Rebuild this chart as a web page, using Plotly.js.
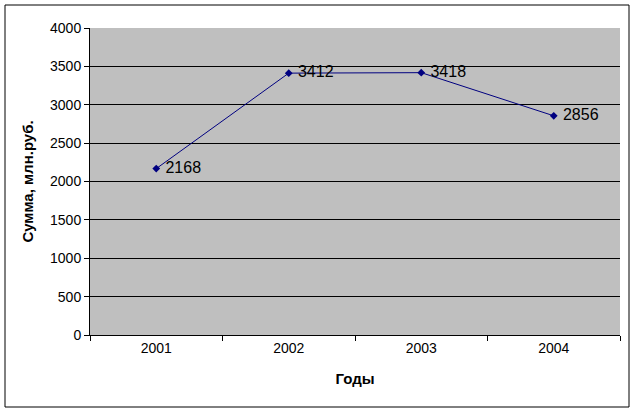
<!DOCTYPE html>
<html>
<head>
<meta charset="utf-8">
<script src="https://cdn.plot.ly/plotly-3.0.1.min.js"></script>
<style>html,body{margin:0;padding:0;background:#fff;}#chart{width:636px;height:413px;}</style>
</head>
<body>
<div id="chart"></div>
<script>
const years = ['2001', '2002', '2003', '2004'];
const sums = [2168, 3412, 3418, 2856];
const yTicks = [0, 500, 1000, 1500, 2000, 2500, 3000, 3500, 4000];

const trace = {
  x: years,
  y: sums,
  type: 'scatter',
  mode: 'lines+markers+text',
  text: sums.map(v => '\u00a0' + v),
  textposition: 'middle right',
  textfont: {family: 'Arial, Liberation Sans, sans-serif', size: 16, color: '#000'},
  line: {color: '#000080', width: 1},
  marker: {symbol: 'diamond', size: 6, color: '#000080'},
  cliponaxis: false,
  hoverinfo: 'x+y'
};

const layout = {
  width: 636, height: 413,
  margin: {l: 90, r: 16, t: 28, b: 78},
  paper_bgcolor: '#ffffff',
  plot_bgcolor: '#bfbfbf',
  showlegend: false,
  font: {family: 'Arial, Liberation Sans, sans-serif', size: 14, color: '#000'},
  xaxis: {
    type: 'category',
    range: [-0.5, 3.5],
    showgrid: false,
    showline: true, linecolor: '#000', linewidth: 1,
    ticks: 'outside', tickson: 'boundaries', ticklen: 5, tickcolor: '#000',
    tickfont: {size: 14},
    title: {text: 'Годы', font: {size: 15, weight: 'bold'}, standoff: 18},
    zeroline: false
  },
  yaxis: {
    range: [0, 4000],
    tickvals: yTicks,
    showgrid: true, gridcolor: '#000', gridwidth: 1,
    showline: true, linecolor: '#000', linewidth: 1,
    ticks: 'outside', ticklen: 5, tickcolor: '#000',
    tickfont: {size: 14},
    title: {text: 'Сумма, млн.руб.', font: {size: 15, weight: 'bold'}, standoff: 12},
    zeroline: false
  },
  shapes: [{
    type: 'rect', xref: 'paper', yref: 'paper',
    x0: -85/530, x1: 539/530, y0: -72/307, y1: 330/307,
    line: {color: '#000', width: 1}, fillcolor: 'rgba(0,0,0,0)', layer: 'below'
  }]
};

Plotly.newPlot('chart', [trace], layout, {displayModeBar: false, staticPlot: true});
</script>
</body>
</html>
